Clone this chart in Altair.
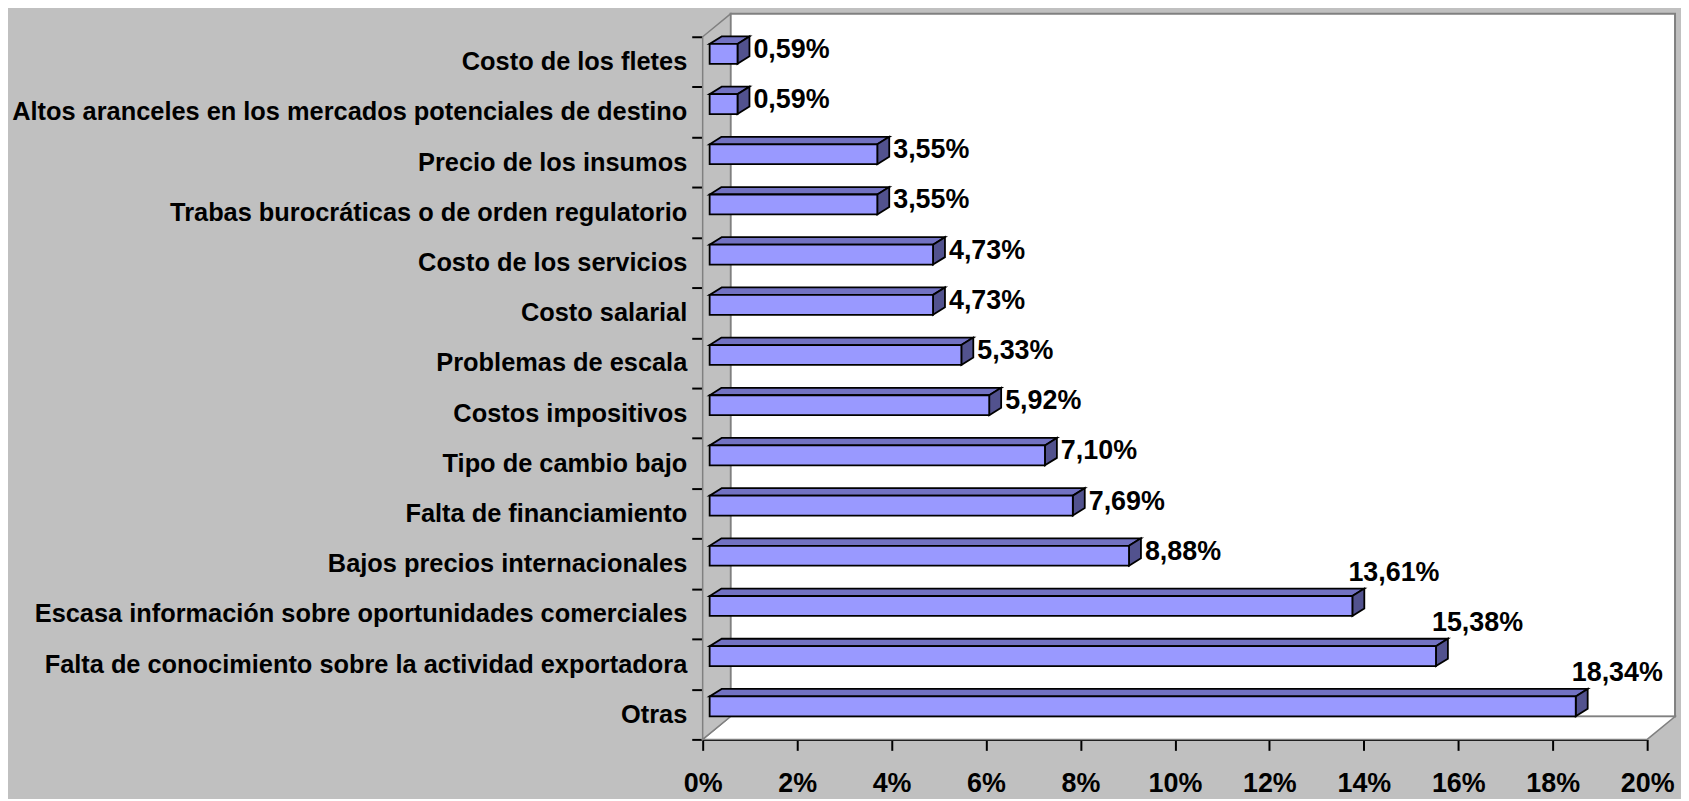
import altair as alt
import pandas as pd

# ---- data (top to bottom as in the chart) ----
categories = [
    "Costo de los fletes",
    "Altos aranceles en los mercados potenciales de destino",
    "Precio de los insumos",
    "Trabas burocráticas o de orden regulatorio",
    "Costo de los servicios",
    "Costo salarial",
    "Problemas de escala",
    "Costos impositivos",
    "Tipo de cambio bajo",
    "Falta de financiamiento",
    "Bajos precios internacionales",
    "Escasa información sobre oportunidades comerciales",
    "Falta de conocimiento sobre la actividad exportadora",
    "Otras",
]
values = [0.59, 0.59, 3.55, 3.55, 4.73, 4.73, 5.33, 5.92, 7.10, 7.69, 8.88, 13.61, 15.38, 18.34]
x_ticks = [0, 2, 4, 6, 8, 10, 12, 14, 16, 18, 20]

# ---- geometry / style constants ----
W, H = 949, 706
XMAX = 20
N = len(categories)
PXX = W / XMAX          # px per percent
PXY = H / N             # px per row
XS = 7 / PXX            # bars start slightly behind axis plane
DX = 12 / PXX           # bar depth (x)
DY = 7.5 / PXY          # bar depth (y)
FB = 2 / PXY            # front face bottom below row centre
FT = 18 / PXY           # front face top above row centre
WDX = 28 / PXX          # wall depth (x)
WDY = 23 / PXY          # wall depth (y)
LONG = 12               # labels of bars longer than this sit above the bar end

FONT = "Liberation Sans"
BG = "#C0C0C0"
FRONT = "#9999FF"
TOP = "#7272C2"
SIDE = "#52528E"

df = pd.DataFrame({"cat": categories, "v": values})
df["row"] = range(N)
df["c"] = N - 0.5 - df["row"]
df["x0"] = XS
df["x1"] = df["v"] + XS
df["y0"] = df["c"] - FB
df["y1"] = df["c"] + FT
df["lab"] = [f"{v:.2f}".replace(".", ",") + "%" for v in values]
df["lx"] = df["v"] + XS + DX

# two-point rows for the slanted faces
longs = []
for k in (0, 1):
    d = df.copy()
    d["k"] = k
    d["tx0"] = XS + k * DX
    d["tx1"] = d["v"] + XS + k * DX
    d["ty"] = d["c"] + FT + k * DY
    d["sx"] = d["v"] + XS + k * DX
    d["sy0"] = d["c"] - FB + k * DY
    d["sy1"] = d["c"] + FT + k * DY
    longs.append(d)
dl = pd.concat(longs, ignore_index=True)

# wall / floor
wall = pd.DataFrame({"x0": [WDX], "x1": [XMAX + WDX], "y0": [WDY], "y1": [N + WDY]})
floor = pd.DataFrame({"y": [0, WDY], "xa": [0, WDX], "xb": [XMAX, XMAX + WDX], "g": ["f", "f"]})
lwall = pd.DataFrame({"x": [0, WDX], "ya": [0, WDY], "yb": [N, N + WDY], "g": ["w", "w"]})

XSC = alt.Scale(domain=[0, XMAX], nice=False, zero=False)
YSC = alt.Scale(domain=[0, N], nice=False, zero=False)

X_AXIS = alt.Axis(
    values=x_ticks, labelExpr="datum.value + '%'", title=None, grid=False,
    tickSize=11, tickWidth=2, tickColor="black", domainColor="black", domainWidth=2,
    labelFont=FONT, labelFontSize=27, labelFontWeight="bold", labelColor="black",
    labelPadding=20, labelFlush=False, labelOverlap=False,
)
Y_AXIS = alt.Axis(
    orient="left", title=None, grid=False, tickBand="extent",
    tickSize=11, tickWidth=2, tickColor="black", domainColor="black", domainWidth=2,
    labelFont=FONT, labelFontSize=25.5, labelFontWeight="bold", labelColor="black",
    labelPadding=5, labelLimit=2000,
)


def X(f):
    return alt.X(f, type="quantitative", scale=XSC, axis=X_AXIS, stack=None)


def Y(f):
    return alt.Y(f, type="quantitative", scale=YSC, axis=None, stack=None)


back = alt.Chart(wall).mark_rect(fill="white", stroke="#808080", strokeWidth=2).encode(
    x=X("x0"), x2="x1", y=Y("y0"), y2="y1"
)
flo = alt.Chart(floor).mark_area(orient="horizontal", fill="white", stroke="#808080", strokeWidth=1.5).encode(
    y=Y("y"), x=X("xa"), x2="xb", detail="g:N"
)
lw = alt.Chart(lwall).mark_area(orient="vertical", fill=BG, stroke="#808080", strokeWidth=1.5).encode(
    x=X("x"), y=Y("ya"), y2="yb", detail="g:N"
)

top = alt.Chart(dl).mark_area(orient="horizontal", fill=TOP, stroke="black", strokeWidth=1.8).encode(
    y=Y("ty"), x=X("tx0"), x2="tx1", detail="cat:N"
)
side = alt.Chart(dl).mark_area(orient="vertical", fill=SIDE, stroke="black", strokeWidth=1.8).encode(
    x=X("sx"), y=Y("sy0"), y2="sy1", detail="cat:N"
)
front = alt.Chart(df).mark_rect(fill=FRONT, stroke="black", strokeWidth=1.8).encode(
    x=X("x0"), x2="x1", y=Y("y0"), y2="y1"
)
TXT = dict(align="left", baseline="middle", font=FONT, fontSize=27, fontWeight="bold", color="black")
labels_short = alt.Chart(df).transform_filter(f"datum.v <= {LONG}").mark_text(
    dx=4, dy=-12, **TXT
).encode(x=X("lx"), y=Y("c"), text="lab:N")
labels_long = alt.Chart(df).transform_filter(f"datum.v > {LONG}").mark_text(
    dx=-16, dy=-41, **TXT
).encode(x=X("lx"), y=Y("c"), text="lab:N")

axis_layer = alt.Chart(df).mark_bar(opacity=0).encode(
    x=X("v"),
    y=alt.Y("cat:N", sort=categories, scale=alt.Scale(paddingInner=0, paddingOuter=0), axis=Y_AXIS),
)

chart = (
    alt.layer(back, flo, lw, top, side, front, labels_short, labels_long, axis_layer)
    .resolve_scale(y="independent")
    .properties(
        width=W, height=H,
        autosize=alt.AutoSizeParams(type="none"),
        padding={"left": 698, "top": 27, "right": 34, "bottom": 58},
    )
    .configure(background=BG)
    .configure_view(strokeWidth=0)
)

chart.save("out.html", embed_options={"renderer": "svg", "actions": False})
